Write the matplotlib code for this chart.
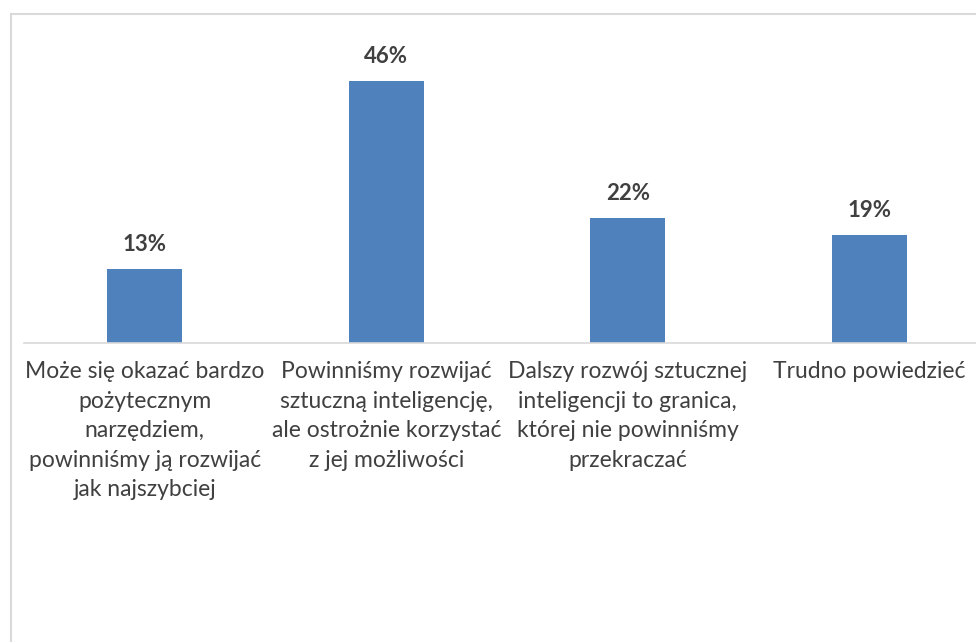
import matplotlib.pyplot as plt
from matplotlib.lines import Line2D

categories = [
    'Może się okazać bardzo\npożytecznym\nnarzędziem,\npowinniśmy ją rozwijać\njak najszybciej',
    'Powinniśmy rozwijać\nsztuczną inteligencję,\nale ostrożnie korzystać\nz jej możliwości',
    'Dalszy rozwój sztucznej\ninteligencji to granica,\nktórej nie powinniśmy\nprzekraczać',
    'Trudno powiedzieć',
]
values = [13, 46, 22, 19]
value_labels = ['13%', '46%', '22%', '19%']

plt.rcParams['font.family'] = ['Lato', 'DejaVu Sans']

W, H = 976, 642
fig = plt.figure(figsize=(W / 100, H / 100), dpi=100)

# axes: baseline at y=343 px, left edge at x=24 px
ax = fig.add_axes([24 / W, (H - 343) / H, (W - 24) / W, 303 / H])
x = list(range(len(values)))
bars = ax.bar(x, values, width=0.31, color='#4F81BD')

ax.set_xlim(-0.5, -0.5 + (W - 24) / 241.5)
ax.set_ylim(0, 46 * 303 / 262)

for b, lab in zip(bars, value_labels):
    ax.annotate(lab, (b.get_x() + b.get_width() / 2, b.get_height()),
                xytext=(0, 10), textcoords='offset points',
                ha='center', va='bottom', fontsize=16, fontweight='bold',
                color='#404040')

ax.set_xticks(x)
ax.set_xticklabels(categories, fontsize=16.5, color='#404040', linespacing=1.5)
ax.tick_params(axis='x', length=0, pad=13)
ax.set_yticks([])
for s in ['top', 'right', 'left']:
    ax.spines[s].set_visible(False)
ax.spines['bottom'].set_color('#d9d9d9')
ax.spines['bottom'].set_linewidth(1.2)

# outer chart border (left and top)
fig.add_artist(Line2D([10.5 / W, 10.5 / W], [0, 1 - 13.5 / H],
                      transform=fig.transFigure, color='#d9d9d9', lw=1.5))
fig.add_artist(Line2D([10.5 / W, 1], [1 - 13.5 / H, 1 - 13.5 / H],
                      transform=fig.transFigure, color='#d9d9d9', lw=1.5))

plt.savefig('out.png', dpi=100)
